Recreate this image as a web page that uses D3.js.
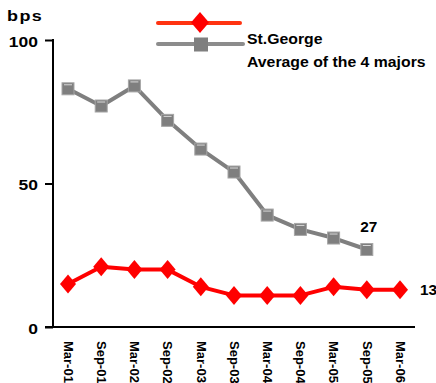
<!DOCTYPE html>
<html><head><meta charset="utf-8">
<script src="https://cdn.jsdelivr.net/npm/d3@7"></script>
<style>
html,body{margin:0;padding:0;background:#fff;overflow:hidden}
text{font-family:"Liberation Sans",Arial,sans-serif;font-weight:bold;fill:#000}
</style></head>
<body>
<svg id="c" width="436" height="383"></svg>
<script>
const categories = ["Mar-01","Sep-01","Mar-02","Sep-02","Mar-03","Sep-03","Mar-04","Sep-04","Mar-05","Sep-05","Mar-06"];
const stGeorge = [15,21,20,20,14,11,11,11,14,13,13];
const majorsAvg = [83,77,84,72,62,54,39,34,31,27,null];
const yTicks = [0,50,100];
const seriesNames = ["St.George","Average of the 4 majors"];
const unitLabel = "bps";

const svg = d3.select("#c");
const x = d3.scalePoint().domain(categories).range([68,400]);
const y = d3.scaleLinear().domain([0,100]).range([327,40]);

// y axis
const ya = svg.append("g").attr("transform","translate(53,0)")
  .call(d3.axisLeft(y).tickValues(yTicks).tickSize(8).tickPadding(4));
ya.select(".domain").remove();
ya.selectAll(".tick line").attr("stroke","#000").attr("stroke-width",2).attr("x1",0);
ya.selectAll(".tick text").attr("font-size",14).attr("font-weight","bold")
  .attr("font-family","Liberation Sans, Arial, sans-serif").attr("fill","#000")
  .attr("x",-12).attr("dy","0.45em").attr("transform","scale(1.25,1)");
svg.append("line").attr("x1",53).attr("x2",53).attr("y1",y(100)-1).attr("y2",y(0))
  .attr("stroke","#000").attr("stroke-width",2);

// x axis
const xa = svg.append("g").attr("transform",`translate(0,${y(0)})`)
  .call(d3.axisBottom(x).tickSize(0).tickPadding(0));
xa.select(".domain").remove();
xa.selectAll(".tick text").attr("font-size",13).attr("font-weight","bold")
  .attr("font-family","Liberation Sans, Arial, sans-serif").attr("fill","#000")
  .attr("text-anchor","start").attr("y",0).attr("x",0).attr("dy","0.36em")
  .attr("transform","translate(0,14) rotate(90)");
svg.append("line").attr("x1",45).attr("x2",415).attr("y1",y(0)).attr("y2",y(0))
  .attr("stroke","#000").attr("stroke-width",2);

const red = "#ff0000", grey = "#7f7f7f";
const line = d3.line().defined(d=>d.v!=null).x(d=>x(d.c)).y(d=>y(d.v));
const gData = categories.map((c,i)=>({c,v:majorsAvg[i]}));
const rData = categories.map((c,i)=>({c,v:stGeorge[i]}));

svg.append("path").datum(gData).attr("d",line).attr("fill","none")
  .attr("stroke",grey).attr("stroke-width",4).attr("stroke-linejoin","round");
svg.append("path").datum(rData).attr("d",line).attr("fill","none")
  .attr("stroke",red).attr("stroke-width",4).attr("stroke-linejoin","round");

function square(g, cx, cy, s){
  g.append("rect").attr("x",cx-s/2).attr("y",cy-s/2).attr("width",s).attr("height",s)
    .attr("fill",grey).attr("stroke","#a6a6a6").attr("stroke-width",1);
  g.append("line").attr("x1",cx-s/2+2).attr("x2",cx+s/2-2).attr("y1",cy-s/2+2).attr("y2",cy-s/2+2)
    .attr("stroke","#d9d9d9").attr("stroke-width",1);
}
function diamond(g, cx, cy, hw, hh, col){
  g.append("path").attr("d",`M${cx},${cy-hh}L${cx+hw},${cy}L${cx},${cy+hh}L${cx-hw},${cy}Z`).attr("fill",col);
}
const mg = svg.append("g");
gData.filter(d=>d.v!=null).forEach(d=>square(mg, x(d.c), y(d.v), 12));
rData.forEach(d=>diamond(mg, x(d.c), y(d.v), 8, 9.5, red));

// end labels
function stretchedText(xp, yp, txt, size, sx, anchor){
  svg.append("text").attr("transform",`translate(${xp},${yp}) scale(${sx},1)`)
    .attr("font-size",size).attr("text-anchor",anchor||"start").text(txt);
}
const lastG = gData[9], lastR = rData[10];
stretchedText(x(lastG.c)+2, y(lastG.v)-18, lastG.v, 14, 1.1, "middle");
stretchedText(x(lastR.c)+20, y(lastR.v)+5, lastR.v, 14, 1.1, "start");

// unit label
svg.append("text").attr("transform","translate(7,21) scale(1.2,1)").attr("font-size",15)
  .attr("letter-spacing","1.2px").text(unitLabel);

// legend
svg.append("line").attr("x1",158).attr("x2",240).attr("y1",23).attr("y2",23)
  .attr("stroke","#ff3311").attr("stroke-width",4).attr("stroke-linecap","round");
diamond(svg, 200, 22.5, 9, 10.5, red);
svg.append("line").attr("x1",158).attr("x2",243).attr("y1",44).attr("y2",44)
  .attr("stroke","#8c8c8c").attr("stroke-width",4).attr("stroke-linecap","round");
svg.append("rect").attr("x",194).attr("y",37.5).attr("width",14).attr("height",14).attr("fill",grey);
stretchedText(247, 43.5, seriesNames[0], 14, 1.13, "start");
stretchedText(247, 67, seriesNames[1], 14, 1.13, "start");
</script>
</body></html>
